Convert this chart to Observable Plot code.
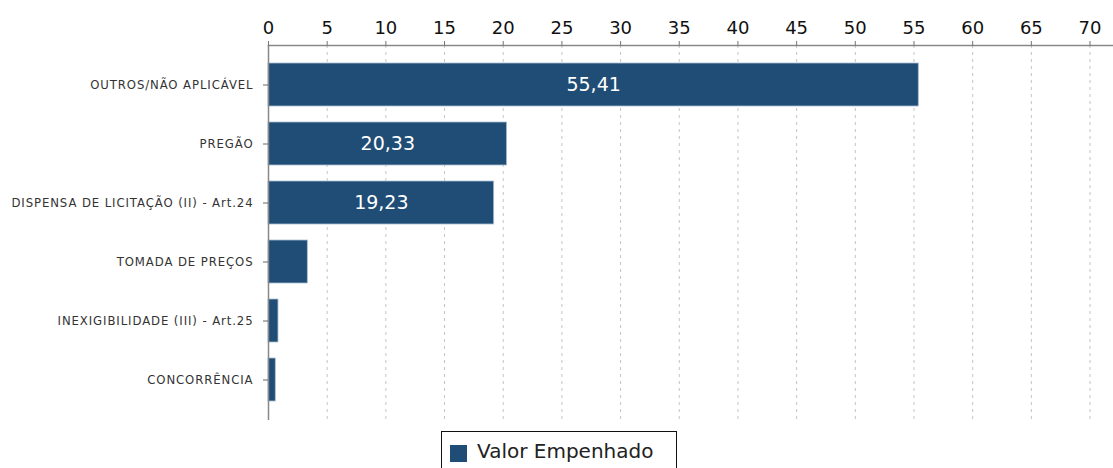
<!DOCTYPE html>
<html>
<head>
<meta charset="utf-8">
<script src="https://cdn.jsdelivr.net/npm/d3@7"></script>
<script src="https://cdn.jsdelivr.net/npm/@observablehq/plot@0.6"></script>
<style>
  html, body { margin: 0; padding: 0; background: #fff; }
  #wrap { position: relative; width: 1113px; height: 468px; overflow: hidden; font-family: "DejaVu Sans", sans-serif; }
  #legend { position: absolute; left: 441px; top: 431px; width: 236px; height: 44px; border: 1.5px solid #111; box-sizing: border-box; background: #fff; }
  #legend .sw { position: absolute; left: 8px; top: 13px; width: 17px; height: 17px; }
  #legend .lbl { position: absolute; left: 35px; top: 7px; font-size: 20px; color: #222; white-space: nowrap; }
</style>
</head>
<body>
<div id="wrap">
  <div id="chart"></div>
  <div id="legend"><div class="sw"></div><div class="lbl"></div></div>
</div>
<script>
const categories = [
  "OUTROS/NÃO APLICÁVEL",
  "PREGÃO",
  "DISPENSA DE LICITAÇÃO (II) - Art.24",
  "TOMADA DE PREÇOS",
  "INEXIGIBILIDADE (III) - Art.25",
  "CONCORRÊNCIA"
];
const values = [55.41, 20.33, 19.23, 3.35, 0.85, 0.62];
const xTicks = [0, 5, 10, 15, 20, 25, 30, 35, 40, 45, 50, 55, 60, 65, 70];
const seriesName = "Valor Empenhado";
const barColor = "#1f4d75";

const data = categories.map((c, i) => ({category: c, value: values[i]}));
const fmt = v => v.toFixed(2).replace(".", ",");

const chart = Plot.plot({
  width: 1113,
  height: 425,
  marginTop: 45,
  marginBottom: 5,
  marginLeft: 268,
  marginRight: 0,
  style: {fontFamily: "DejaVu Sans, sans-serif", background: "#fff"},
  x: {domain: [0, 72], ticks: xTicks},
  y: {domain: categories, paddingInner: 0.27, paddingOuter: 0.31},
  marks: [
    Plot.gridX(xTicks, {stroke: "#c4c4c4", strokeOpacity: 1, strokeDasharray: "3,4"}),
    Plot.barX(data, {x: "value", y: "category", fill: barColor, stroke: "#a9bfd3", strokeWidth: 0.8}),
    Plot.text(data.filter(d => d.value > 10), {
      x: d => d.value / 2, y: "category", text: d => fmt(d.value),
      fill: "#fff", fontSize: 19
    }),
    Plot.frame({anchor: "top", stroke: "#888", strokeWidth: 1.5}),
    Plot.ruleX([0], {stroke: "#888", strokeWidth: 1.5}),
    Plot.axisX(xTicks, {anchor: "top", tickSize: 5, tickPadding: 7, fontSize: 18, color: "#111", stroke: "#777", label: null}),
    Plot.axisY({anchor: "left", tickSize: 5, tickPadding: 10, fontSize: 11.7, color: "#333", stroke: "#666", label: null})
  ]
});
document.getElementById("chart").appendChild(chart);
d3.select(chart).selectAll("g[aria-label='y-axis tick label'] text").style("letter-spacing", "0.9px");
document.querySelector("#legend .sw").style.background = barColor;
document.querySelector("#legend .lbl").textContent = seriesName;
</script>
</body>
</html>
